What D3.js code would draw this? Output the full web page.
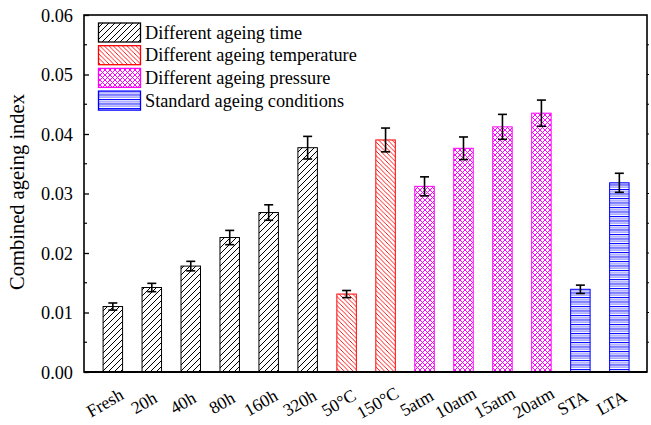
<!DOCTYPE html>
<html>
<head>
<meta charset="utf-8">
<script src="https://cdn.jsdelivr.net/npm/d3@7"></script>
<style>
  html, body { margin: 0; padding: 0; background: #fff; }
  svg { display: block; }
  svg text { font-family: "Liberation Serif", "Times New Roman", serif !important; fill: #000; }
</style>
</head>
<body>
<svg id="chart" width="651" height="425"></svg>
<script>
// Sample conditions along the x axis
const categories = ["Fresh", "20h", "40h", "80h", "160h", "320h", "50°C", "150°C",
                    "5atm", "10atm", "15atm", "20atm", "STA", "LTA"];
// Combined ageing index and its error
const values = [0.0110, 0.0142, 0.0178, 0.0226, 0.0268, 0.0377, 0.0131, 0.0390,
                0.0312, 0.0376, 0.0412, 0.0435, 0.0139, 0.0318];
const errors = [0.0006, 0.0007, 0.0008, 0.0012, 0.0013, 0.0019, 0.0006, 0.0020,
                0.0016, 0.0019, 0.0021, 0.0022, 0.0007, 0.0016];
// Group each bar belongs to
const groups = [0, 0, 0, 0, 0, 0, 1, 1, 2, 2, 2, 2, 3, 3];
const groupNames = ["Different ageing time", "Different ageing temperature",
                    "Different ageing pressure", "Standard ageing conditions"];
const groupColors = ["#000000", "#ff0000", "#ff00ff", "#0000ff"];
const yTicks = [0, 0.01, 0.02, 0.03, 0.04, 0.05, 0.06];

const svg = d3.select("#chart");
const plotL = 84, plotR = 647, plotT = 15, plotB = 372;

const x = d3.scaleLinear().domain([-0.74, 13.71]).range([plotL, plotR]);
const y = d3.scaleLinear().domain([0, 0.06]).range([plotB, plotT]);
const barW = x(0.5) - x(0);

// Fill patterns for the four groups
const defs = svg.append("defs");
function hatch(id, color, size, dir, sw) {
  const p = defs.append("pattern").attr("id", id).attr("patternUnits", "userSpaceOnUse")
    .attr("width", size).attr("height", size);
  p.append("rect").attr("width", size).attr("height", size).attr("fill", "#fff");
  const segs = dir > 0
    ? [[0, size, size, 0], [-size / 2, size / 2, size / 2, -size / 2], [size / 2, size * 1.5, size * 1.5, size / 2]]
    : [[0, 0, size, size], [-size / 2, size / 2, size / 2, size * 1.5], [size / 2, -size / 2, size * 1.5, size / 2]];
  segs.forEach(s => p.append("line").attr("x1", s[0]).attr("y1", s[1]).attr("x2", s[2]).attr("y2", s[3])
    .attr("stroke", color).attr("stroke-width", sw));
}
hatch("pat0", "#000", 6, 1, 1);
hatch("pat1", "#ff0000", 4.5, -1, 0.9);
{
  const s = 5;
  const p = defs.append("pattern").attr("id", "pat2").attr("patternUnits", "userSpaceOnUse")
    .attr("width", s).attr("height", s);
  p.append("rect").attr("width", s).attr("height", s).attr("fill", "#fff");
  [[0, 0, s, s], [0, s, s, 0]].forEach(c => p.append("line")
    .attr("x1", c[0]).attr("y1", c[1]).attr("x2", c[2]).attr("y2", c[3])
    .attr("stroke", "#ff00ff").attr("stroke-width", 1));
}
{
  const h = 4.5;
  const p = defs.append("pattern").attr("id", "pat3").attr("patternUnits", "userSpaceOnUse")
    .attr("width", 8).attr("height", h);
  p.append("rect").attr("width", 8).attr("height", h).attr("fill", "#fff");
  p.append("rect").attr("y", 0).attr("width", 8).attr("height", 1).attr("fill", "#0000ff");
  p.append("rect").attr("y", 2).attr("width", 8).attr("height", 1.5).attr("fill", "#a0a0ff");
}

// Bars
const data = categories.map((c, i) => ({ c, i, v: values[i], e: errors[i], g: groups[i] }));
svg.append("g").selectAll("rect").data(data).join("rect")
  .attr("x", d => x(d.i) - barW / 2)
  .attr("y", d => y(d.v))
  .attr("width", barW)
  .attr("height", d => y(0) - y(d.v))
  .attr("fill", d => `url(#pat${d.g})`)
  .attr("stroke", d => groupColors[d.g])
  .attr("stroke-width", 1);

// Error bars
const eb = svg.append("g").attr("stroke", "#000").attr("stroke-width", 1.6);
data.forEach(d => {
  const cx = x(d.i), capW = 4.5;
  eb.append("line").attr("x1", cx).attr("x2", cx).attr("y1", y(d.v + d.e)).attr("y2", y(d.v - d.e));
  eb.append("line").attr("x1", cx - capW).attr("x2", cx + capW).attr("y1", y(d.v + d.e)).attr("y2", y(d.v + d.e));
  eb.append("line").attr("x1", cx - capW).attr("x2", cx + capW).attr("y1", y(d.v - d.e)).attr("y2", y(d.v - d.e));
});

// Left axis with inward ticks
const yAxis = d3.axisLeft(y).tickValues(yTicks).tickFormat(d3.format(".2f")).tickSizeInner(-5).tickSizeOuter(0).tickPadding(11);
const gy = svg.append("g").attr("transform", `translate(${plotL},0)`).call(yAxis);
gy.select(".domain").remove();
gy.selectAll(".tick line").attr("stroke-width", 1.3);
gy.selectAll(".tick text").attr("font-size", 18.3).attr("dy", "0.34em");
// minor ticks
const minor = d3.range(0.005, 0.06, 0.01);
svg.append("g").selectAll("line").data(minor).join("line")
  .attr("x1", plotL).attr("x2", plotL + 3).attr("y1", d => y(d)).attr("y2", d => y(d))
  .attr("stroke", "#000").attr("stroke-width", 1.2);
// right axis small outward ticks
svg.append("g").selectAll("line").data(d3.range(0.005, 0.06, 0.005)).join("line")
  .attr("x1", plotR).attr("x2", plotR + 2).attr("y1", d => y(d)).attr("y2", d => y(d))
  .attr("stroke", "#000").attr("stroke-width", 1);

// Frame
svg.append("rect").attr("x", plotL).attr("y", plotT).attr("width", plotR - plotL).attr("height", plotB - plotT)
  .attr("fill", "none").attr("stroke", "#000").attr("stroke-width", 1.6);
svg.append("line").attr("x1", plotL).attr("x2", plotR).attr("y1", plotB).attr("y2", plotB)
  .attr("stroke", "#000").attr("stroke-width", 2.2);

// Category labels, rotated about their centres
const xAxis = d3.axisBottom(x).tickValues(d3.range(categories.length)).tickFormat(i => categories[i]).tickSize(0);
const gx = svg.append("g").attr("transform", `translate(0,${plotB})`).call(xAxis);
gx.select(".domain").remove();
gx.selectAll(".tick text")
  .attr("font-size", 17.6)
  .attr("text-anchor", "middle")
  .attr("y", 0).attr("dy", 0)
  .attr("transform", "translate(-5.4,36) rotate(-30)");

// Y axis title
svg.append("text").attr("transform", "translate(24,192) rotate(-90)")
  .attr("text-anchor", "middle").attr("font-size", 20.5).text("Combined ageing index");

// Legend
const lg = svg.append("g");
groupNames.forEach((n, k) => {
  const yy = 23 + k * 22.7;
  lg.append("rect").attr("x", 98.5).attr("y", yy).attr("width", 42).attr("height", 19)
    .attr("fill", `url(#pat${k})`).attr("stroke", groupColors[k]).attr("stroke-width", 1.3);
  lg.append("text").attr("x", 145).attr("y", yy + 15.5).attr("font-size", 18.3).text(n);
});
</script>
</body>
</html>
